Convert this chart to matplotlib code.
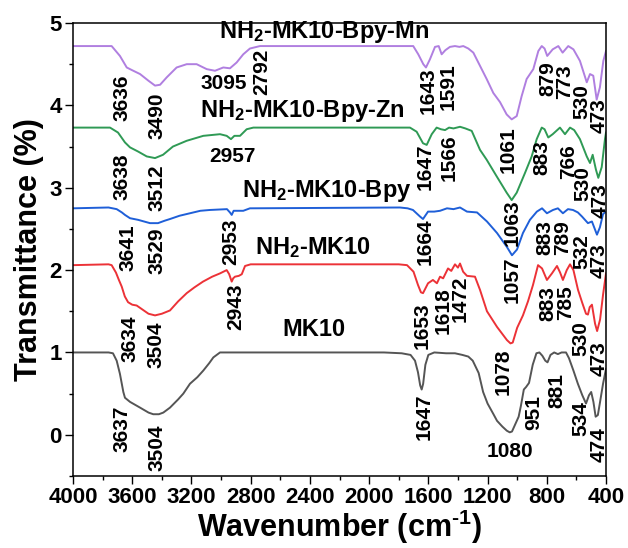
import matplotlib
matplotlib.use("Agg")
import matplotlib.pyplot as plt
from matplotlib.ticker import MultipleLocator

plt.rcParams['font.family'] = ['Liberation Sans', 'DejaVu Sans']
plt.rcParams['font.weight'] = 'bold'
plt.rcParams['mathtext.fontset'] = 'custom'
plt.rcParams['mathtext.rm'] = 'Liberation Sans:bold'
plt.rcParams['mathtext.bf'] = 'Liberation Sans:bold'
plt.rcParams['mathtext.default'] = 'rm'

# spectra: wavenumber (cm-1) and offset transmittance
mk10_wn = [4000, 3760, 3730, 3705, 3683, 3660, 3649, 3615, 3547, 3490, 3458, 3420, 3390, 3345,
           3290, 3255, 3210, 3160, 3120, 3080, 3052, 3007, 2400, 1900, 1780, 1720, 1690, 1670,
           1655, 1645, 1635, 1620, 1600, 1560, 1480, 1420, 1370, 1330, 1300, 1260, 1230, 1200,
           1160, 1136, 1100, 1070, 1050, 1035, 1020, 990, 975, 955, 940, 920, 895, 870, 850,
           830, 810, 795, 775, 750, 725, 700, 670, 650, 620, 590, 560, 535, 515, 500, 485,
           470, 455, 440, 420, 400]
mk10_t = [1.00, 1.00, 0.99, 0.90, 0.74, 0.52, 0.45, 0.40, 0.33, 0.27, 0.25, 0.25, 0.27, 0.33,
          0.43, 0.50, 0.62, 0.70, 0.78, 0.87, 0.94, 1.00, 1.00, 1.00, 0.99, 0.97, 0.90, 0.76,
          0.60, 0.55, 0.62, 0.85, 0.97, 1.00, 0.99, 0.99, 0.97, 0.95, 0.90, 0.75, 0.52, 0.38,
          0.25, 0.17, 0.10, 0.05, 0.03, 0.04, 0.10, 0.22, 0.35, 0.55, 0.58, 0.63, 0.85, 0.99, 1.00,
          0.96, 0.90, 0.88, 0.97, 1.00, 0.98, 1.00, 1.00, 0.93, 0.78, 0.62, 0.48, 0.38, 0.48, 0.52, 0.40,
          0.22, 0.24, 0.40, 0.62, 0.80]

nh2_wn = [4000, 3760, 3739, 3710, 3690, 3671, 3650, 3628, 3600, 3570, 3530, 3490, 3446, 3400,
          3345, 3290, 3232, 3180, 3122, 3060, 3007, 2962, 2945, 2928, 2918, 2906, 2880, 2860,
          2838, 2800, 1800, 1744, 1700, 1670, 1650, 1636, 1602, 1569, 1542, 1521, 1500, 1467,
          1445, 1420, 1400, 1386, 1365, 1339, 1285, 1251, 1204, 1136, 1069, 1045, 1030, 1000, 961,
          927, 893, 859, 832, 799, 765, 731, 710, 691, 665, 643, 620, 589, 560, 535, 522,
          510, 495, 474, 460, 440, 420, 400]
nh2_t = [2.06, 2.07, 2.06, 1.97, 1.88, 1.80, 1.68, 1.61, 1.58, 1.57, 1.52, 1.47, 1.45, 1.47,
         1.51, 1.62, 1.72, 1.79, 1.86, 1.92, 1.96, 2.00, 1.95, 1.86, 1.90, 1.92, 1.93, 1.95,
         2.05, 2.07, 2.07, 2.06, 1.98, 1.82, 1.73, 1.72, 1.84, 1.88, 1.84, 1.92, 1.90, 2.02,
         1.99, 2.07, 2.03, 2.08, 1.98, 1.93, 1.92, 1.76, 1.50, 1.31, 1.15, 1.11, 1.12, 1.30, 1.45,
         1.62, 1.82, 2.06, 2.02, 1.88, 1.96, 2.05, 1.97, 1.88, 2.00, 2.07, 2.00, 1.76, 1.60, 1.47, 1.46,
         1.55, 1.58, 1.35, 1.26, 1.40, 1.70, 1.96]

bpy_wn = [4000, 3760, 3705, 3670, 3649, 3615, 3560, 3480, 3426, 3380, 3345, 3280, 3210, 3140,
          3075, 2960, 2940, 2928, 2915, 2880, 2850, 2805, 1792, 1740, 1704, 1656, 1636, 1602,
          1560, 1521, 1474, 1430, 1386, 1339, 1271, 1204, 1136, 1069, 1035, 1001, 961, 914,
          867, 832, 799, 758, 725, 691, 657, 623, 590, 562, 522, 495, 461, 441, 420, 400]
bpy_t = [2.75, 2.76, 2.74, 2.70, 2.67, 2.63, 2.61, 2.57, 2.57, 2.60, 2.62, 2.66, 2.69, 2.72,
         2.73, 2.74, 2.70, 2.67, 2.72, 2.72, 2.72, 2.75, 2.76, 2.75, 2.73, 2.65, 2.62, 2.71,
         2.71, 2.72, 2.75, 2.74, 2.76, 2.71, 2.70, 2.59, 2.45, 2.28, 2.18, 2.25, 2.45, 2.61,
         2.71, 2.75, 2.69, 2.73, 2.75, 2.69, 2.74, 2.73, 2.70, 2.65, 2.57, 2.59, 2.43, 2.52, 2.68, 2.71]

zn_wn = [4000, 3750, 3696, 3649, 3615, 3561, 3502, 3446, 3392, 3325, 3232, 3120, 3007, 2962,
         2933, 2910, 2872, 2827, 2782, 1724, 1679, 1636, 1611, 1577, 1544, 1515, 1487, 1460,
         1430, 1386, 1350, 1307, 1251, 1206, 1139, 1071, 1037, 1003, 947, 902, 868, 834, 815,
         790, 760, 711, 677, 643, 615, 576, 530, 508, 490, 468, 452, 429, 407, 400]
zn_t = [3.73, 3.73, 3.67, 3.55, 3.49, 3.44, 3.38, 3.36, 3.40, 3.50, 3.57, 3.63, 3.65, 3.63,
        3.59, 3.63, 3.63, 3.71, 3.73, 3.73, 3.68, 3.54, 3.52, 3.65, 3.73, 3.71, 3.70, 3.73,
        3.72, 3.74, 3.72, 3.69, 3.46, 3.34, 3.14, 2.94, 2.85, 2.94, 3.18, 3.38, 3.59, 3.73, 3.71,
        3.61, 3.65, 3.73, 3.65, 3.73, 3.70, 3.59, 3.38, 3.30, 3.40, 3.22, 3.12, 3.25, 3.59, 3.67]

mn_wn = [4000, 3739, 3683, 3637, 3604, 3547, 3491, 3446, 3412, 3367, 3300, 3232, 3165, 3097,
         3041, 2985, 2940, 2895, 2850, 2805, 2737, 1702, 1668, 1634, 1616, 1589, 1555, 1530,
         1510, 1485, 1454, 1420, 1390, 1364, 1330, 1296, 1251, 1206, 1161, 1116, 1071, 1037,
         1003, 970, 936, 891, 857, 834, 815, 797, 760, 722, 693, 655, 620, 576, 530, 508,
         486, 463, 441, 418, 400]
mn_t = [4.72, 4.72, 4.60, 4.46, 4.43, 4.38, 4.30, 4.24, 4.25, 4.34, 4.46, 4.50, 4.50, 4.44,
        4.42, 4.46, 4.45, 4.52, 4.62, 4.69, 4.72, 4.72, 4.62, 4.50, 4.46, 4.56, 4.71, 4.72,
        4.62, 4.67, 4.71, 4.72, 4.71, 4.72, 4.69, 4.64, 4.48, 4.32, 4.15, 4.04, 3.89, 3.83,
        3.87, 4.11, 4.32, 4.44, 4.66, 4.72, 4.69, 4.60, 4.68, 4.72, 4.64, 4.72, 4.68, 4.54, 4.28, 4.38,
        4.36, 4.07, 4.22, 4.54, 4.66]

series_names = ['MK10', 'NH$_{2}$-MK10', 'NH$_{2}$-MK10-Bpy', 'NH$_{2}$-MK10-Bpy-Zn',
                'NH$_{2}$-MK10-Bpy-Mn']
series_wn = [mk10_wn, nh2_wn, bpy_wn, zn_wn, mn_wn]
series_t = [mk10_t, nh2_t, bpy_t, zn_t, mn_t]
colors = ['#555555', '#ec3237', '#1f5fd8', '#2f9a55', '#b07fe0']

# where the series names sit (wavenumber, transmittance)
name_pos = [(2372, 1.28), (2379, 2.27), (2284, 2.96), (2453, 3.93), (2305, 4.89)]

# band labels: text, wavenumber, transmittance, rotation
peak_labels = [
    ('3637', 3669, 0.07, 90), ('3504', 3433, -0.16, 90), ('1647', 1629, 0.22, 90),
    ('1080', 1049, -0.20, 0), ('951', 885, 0.27, 90), ('881', 735, 0.54, 90),
    ('534', 571, 0.20, 90), ('474', 446, -0.12, 90),
    ('3634', 3615, 1.17, 90), ('3504', 3439, 1.09, 90), ('2943', 2899, 1.56, 90),
    ('1653', 1643, 1.33, 90), ('1618', 1501, 1.51, 90), ('1472', 1386, 1.65, 90),
    ('1078', 1096, 0.76, 90), ('883', 795, 1.59, 90), ('785', 674, 1.61, 90),
    ('530', 571, 1.17, 90), ('473', 446, 0.93, 90),
    ('3641', 3629, 2.27, 90), ('3529', 3433, 2.24, 90), ('2953', 2933, 2.35, 90),
    ('1664', 1623, 2.34, 90), ('1063', 1035, 2.57, 90), ('1057', 1035, 1.88, 90),
    ('883', 812, 2.40, 90), ('789', 690, 2.40, 90), ('532', 560, 2.22, 90),
    ('473', 444, 2.12, 90),
    ('3638', 3669, 3.13, 90), ('3512', 3433, 3.00, 90), ('2957', 2926, 3.38, 0),
    ('1647', 1623, 3.26, 90), ('1566', 1460, 3.37, 90), ('1061', 1062, 3.46, 90),
    ('883', 832, 3.37, 90), ('766', 655, 3.32, 90), ('530', 553, 3.05, 90),
    ('473', 437, 2.84, 90),
    ('3636', 3669, 4.09, 90), ('3490', 3433, 3.87, 90), ('3095', 2980, 4.27, 0),
    ('2792', 2724, 4.41, 90), ('1643', 1602, 4.18, 90), ('1591', 1467, 4.23, 90),
    ('879', 792, 4.32, 90), ('773', 677, 4.29, 90), ('530', 560, 4.05, 90),
    ('473', 444, 3.87, 90),
]

fig = plt.figure(figsize=(6.28, 5.48), dpi=100)
ax = fig.add_axes([73 / 628, 72 / 548, 533 / 628, 453 / 548])

for wn, t, c in zip(series_wn, series_t, colors):
    ax.plot(wn, t, color=c, linewidth=1.4)

for name, (x, y) in zip(series_names, name_pos):
    ax.text(x, y, name, ha='center', va='center', fontsize=17, fontweight='bold')

for txt, x, y, rot in peak_labels:
    ax.text(x, y, txt, ha='center', va='center', rotation=rot, fontsize=15, fontweight='bold')

ax.set_xlim(4000, 400)
ax.set_ylim(-0.5, 5.0)
ax.xaxis.set_major_locator(MultipleLocator(400))
ax.xaxis.set_minor_locator(MultipleLocator(200))
ax.yaxis.set_major_locator(MultipleLocator(1))
ax.yaxis.set_minor_locator(MultipleLocator(0.5))
ax.tick_params(which='both', direction='out', width=1.0, labelsize=16, pad=2.5)
ax.tick_params(which='major', length=5.5)
ax.tick_params(which='minor', length=3)
for lab in ax.get_xticklabels() + ax.get_yticklabels():
    lab.set_fontweight('bold')
for sp in ax.spines.values():
    sp.set_linewidth(1.1)

ax.set_xlabel('Wavenumber (cm$^{\\text{-}1}$)', fontsize=22, fontweight='bold', labelpad=0)
ax.set_ylabel('Transmittance (%)', fontsize=22, fontweight='bold', labelpad=4)

fig.savefig('out.png', dpi=100)
